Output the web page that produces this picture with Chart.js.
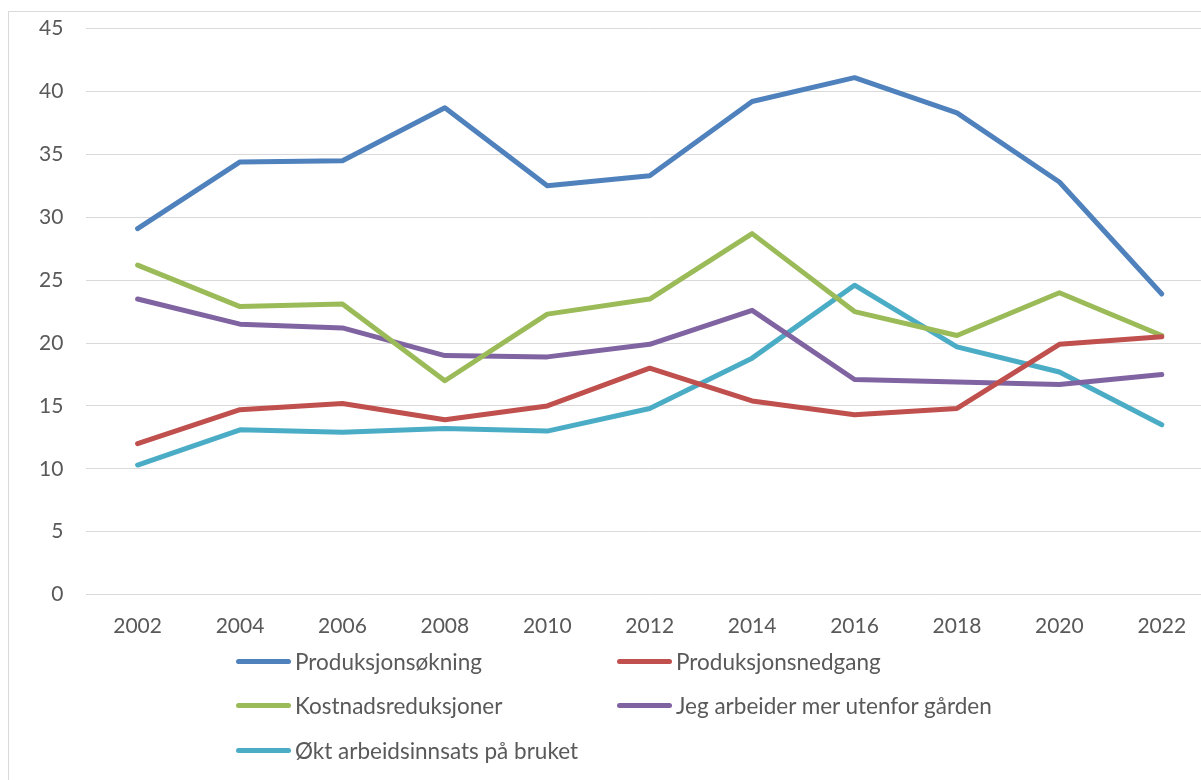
<!DOCTYPE html>
<html>
<head>
<meta charset="utf-8">
<script src="https://cdn.jsdelivr.net/npm/chart.js@4/dist/chart.umd.min.js"></script>
<style>
  html, body { margin: 0; padding: 0; overflow: hidden; background: #fff; }
  body { width: 1201px; height: 780px; position: relative; }
  #frame { position: absolute; left: 8px; top: 11px; width: 1300px; height: 900px; border: 1px solid #d9d9d9; }
  #wrap { position: absolute; left: 0; top: -7px; width: 1220px; height: 660px; }
  #legend { position: absolute; left: 236px; top: 639px; display: grid;
    grid-template-columns: 381px 400px; grid-auto-rows: 44.5px;
    font-family: Lato, sans-serif; font-size: 22.5px; color: #595959; }
  #legend .item { display: flex; align-items: center; white-space: nowrap; }
  #legend .sw { width: 55px; height: 5px; border-radius: 3px; margin-right: 4px; }
</style>
</head>
<body>
<div id="frame"></div>
<div id="wrap"><canvas id="myChart" width="1220" height="660"></canvas></div>
<div id="legend"></div>
<script>
let years = ["2002", "2004", "2006", "2008", "2010", "2012", "2014", "2016", "2018", "2020", "2022"];
let produksjonsokning = [29.1, 34.4, 34.5, 38.7, 32.5, 33.3, 39.2, 41.1, 38.3, 32.8, 23.9];
let produksjonsnedgang = [12.0, 14.7, 15.2, 13.9, 15.0, 18.0, 15.4, 14.3, 14.8, 19.9, 20.5];
let kostnadsreduksjoner = [26.2, 22.9, 23.1, 17.0, 22.3, 23.5, 28.7, 22.5, 20.6, 24.0, 20.6];
let jegArbeiderMer = [23.5, 21.5, 21.2, 19.0, 18.9, 19.9, 22.6, 17.1, 16.9, 16.7, 17.5];
let oktArbeidsinnsats = [10.3, 13.1, 12.9, 13.2, 13.0, 14.8, 18.8, 24.6, 19.7, 17.7, 13.5];

function line(label, color, data) {
  return {
    label: label,
    data: data,
    borderColor: color,
    backgroundColor: color,
    borderWidth: 5,
    pointRadius: 0,
    tension: 0,
    borderCapStyle: "round",
    borderJoinStyle: "round",
  };
}

let ctx = document.getElementById("myChart").getContext("2d");
let myChart = new Chart(ctx, {
  type: "line",
  data: {
    labels: years,
    datasets: [
      line("Produksjonsøkning", "#4F81BD", produksjonsokning),
      line("Produksjonsnedgang", "#C0504D", produksjonsnedgang),
      line("Kostnadsreduksjoner", "#9BBB59", kostnadsreduksjoner),
      line("Jeg arbeider mer utenfor gården", "#8064A2", jegArbeiderMer),
      line("Økt arbeidsinnsats på bruket", "#4BACC6", oktArbeidsinnsats),
    ],
  },
  options: {
    responsive: false,
    animation: false,
    layout: { padding: { left: 0, right: 7, top: 19.5, bottom: 0 } },
    plugins: { legend: { display: false }, tooltip: { enabled: false } },
    scales: {
      x: {
        offset: true,
        grid: { display: false },
        border: { display: false },
        ticks: { color: "#595959", font: { family: "Lato", size: 21 }, padding: 11, maxRotation: 0 },
        afterFit: (s) => { s.height = 58.4; },
      },
      y: {
        min: 0,
        max: 45,
        ticks: { stepSize: 5, color: "#595959", font: { family: "Lato", size: 21 }, padding: 23 },
        grid: { color: "#d9d9d9", lineWidth: 1, drawTicks: false },
        border: { display: false },
        afterFit: (s) => { s.width = 86.4; },
      },
    },
  },
});

// legend in two columns, built from the chart datasets
let legend = document.getElementById("legend");
myChart.data.datasets.forEach((ds) => {
  let item = document.createElement("div");
  item.className = "item";
  let sw = document.createElement("span");
  sw.className = "sw";
  sw.style.background = ds.borderColor;
  let txt = document.createElement("span");
  txt.textContent = ds.label;
  item.appendChild(sw);
  item.appendChild(txt);
  legend.appendChild(item);
});
</script>
</body>
</html>
